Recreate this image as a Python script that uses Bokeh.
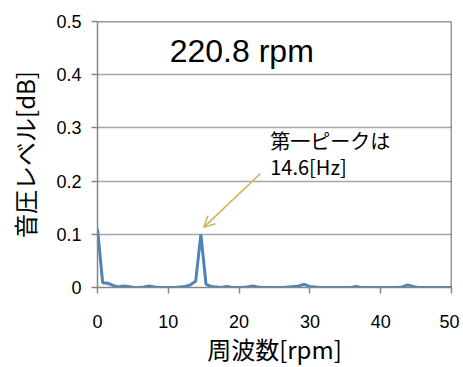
from bokeh.plotting import figure
from bokeh.models import Range1d, Span, Label, Arrow, OpenHead, FixedTicker
from bokeh.embed import file_html
from bokeh.resources import INLINE

# Data
freq = [0.00, 0.73, 1.46, 2.19, 2.92, 3.65, 4.38, 5.11, 5.84, 6.57,
        7.30, 8.03, 8.76, 9.49, 10.22, 10.95, 11.68, 12.41, 13.14, 13.87,
        14.60, 15.33, 16.06, 16.79, 17.52, 18.25, 18.98, 19.71, 20.44, 21.17,
        21.90, 22.63, 23.36, 24.09, 24.82, 25.55, 26.28, 27.01, 27.74, 28.47,
        29.20, 29.93, 30.66, 31.39, 32.12, 32.85, 33.58, 34.31, 35.04, 35.77,
        36.50, 37.23, 37.96, 38.69, 39.42, 40.15, 40.88, 41.61, 42.34, 43.07,
        43.80, 44.53, 45.26, 45.99, 46.72, 47.45, 48.18, 48.91, 49.64, 50.37]
level = [0.110, 0.009, 0.008, 0.004, 0.001, 0.003, 0.002, 0.000, 0.000, 0.001,
         0.003, 0.001, 0.000, 0.000, 0.000, 0.000, 0.001, 0.002, 0.005, 0.012,
         0.100, 0.006, 0.002, 0.001, 0.000, 0.002, 0.000, 0.000, 0.000, 0.001,
         0.003, 0.001, 0.000, 0.000, 0.000, 0.000, 0.000, 0.001, 0.002, 0.003,
         0.006, 0.002, 0.001, 0.000, 0.000, 0.000, 0.000, 0.000, 0.000, 0.000,
         0.002, 0.000, 0.000, 0.000, 0.000, 0.000, 0.000, 0.000, 0.000, 0.001,
         0.005, 0.002, 0.000, 0.000, 0.000, 0.000, 0.000, 0.000, 0.000, 0.000]
x_ticks = [0, 10, 20, 30, 40, 50]
y_ticks = [0, 0.1, 0.2, 0.3, 0.4, 0.5]
y_tick_labels = {0: "0", 0.1: "0.1", 0.2: "0.2", 0.3: "0.3", 0.4: "0.4", 0.5: "0.5"}
title_text = "220.8 rpm"
note_lines = ["第一ピークは", "14.6[Hz]"]
x_label = "周波数[rpm]"
y_label = "音圧レベル[dB]"
x_max = 50
y_max = 0.5

JP = "Noto Sans CJK JP"
LAT = "Liberation Sans"

p = figure(frame_width=354, frame_height=266, output_backend="svg", toolbar_location=None,
           x_range=Range1d(0, x_max), y_range=Range1d(0, y_max),
           min_border_left=97, min_border_right=8, min_border_top=21, min_border_bottom=60)
p.outline_line_color = None
p.background_fill_color = "white"
p.border_fill_color = "white"

p.xgrid.grid_line_color = None
p.ygrid.grid_line_color = "#A6A6A6"
p.ygrid.grid_line_width = 1.5
p.ygrid.ticker = FixedTicker(ticks=y_ticks)

p.xaxis.ticker = FixedTicker(ticks=x_ticks)
p.yaxis.ticker = FixedTicker(ticks=y_ticks)
p.yaxis.major_label_overrides = y_tick_labels
for ax in (p.xaxis[0], p.yaxis[0]):
    ax.axis_line_color = "#868686"
    ax.axis_line_width = 1.5
    ax.major_tick_line_color = "#868686"
    ax.major_tick_line_width = 1.5
    ax.major_tick_in = 0
    ax.major_tick_out = 6
    ax.minor_tick_line_color = None
    ax.major_label_text_font = LAT
    ax.major_label_text_font_size = "18px"
    ax.major_label_text_color = "black"
    ax.axis_label_text_font = JP
    ax.axis_label_text_font_size = "24px"
    ax.axis_label_text_font_style = "normal"
    ax.axis_label_text_color = "black"

p.xaxis.axis_label = x_label
p.yaxis.axis_label = y_label
p.xaxis.major_label_standoff = 21
p.xaxis.axis_label_standoff = 0
p.yaxis.major_label_standoff = 10
p.yaxis.axis_label_standoff = 11

# plot-area border (top and right)
p.add_layout(Span(location=y_max, dimension="width", line_color="#333333", line_width=1.5))
p.add_layout(Span(location=x_max, dimension="height", line_color="#333333", line_width=1.5))

p.line(freq, level, line_color="#4F81BD", line_width=3)

p.add_layout(Label(x=10.2, y=0.445, text=title_text, text_font=LAT, text_font_size="32px",
                   text_color="black", text_baseline="middle"))
p.add_layout(Label(x=24.4, y=0.276, text=note_lines[0], text_font=JP, text_font_size="20px",
                   text_color="black", text_baseline="middle"))
p.add_layout(Label(x=24.4, y=0.227, text=note_lines[1], text_font=JP, text_font_size="20px",
                   text_color="black", text_baseline="middle"))
p.add_layout(Arrow(x_start=23.0, y_start=0.214, x_end=15.0, y_end=0.113,
                   line_color="#D4B15C", line_width=1.5,
                   end=OpenHead(size=11, line_color="#D4B15C", line_width=1.5)))

open("out.html", "w").write(file_html(p, INLINE))
